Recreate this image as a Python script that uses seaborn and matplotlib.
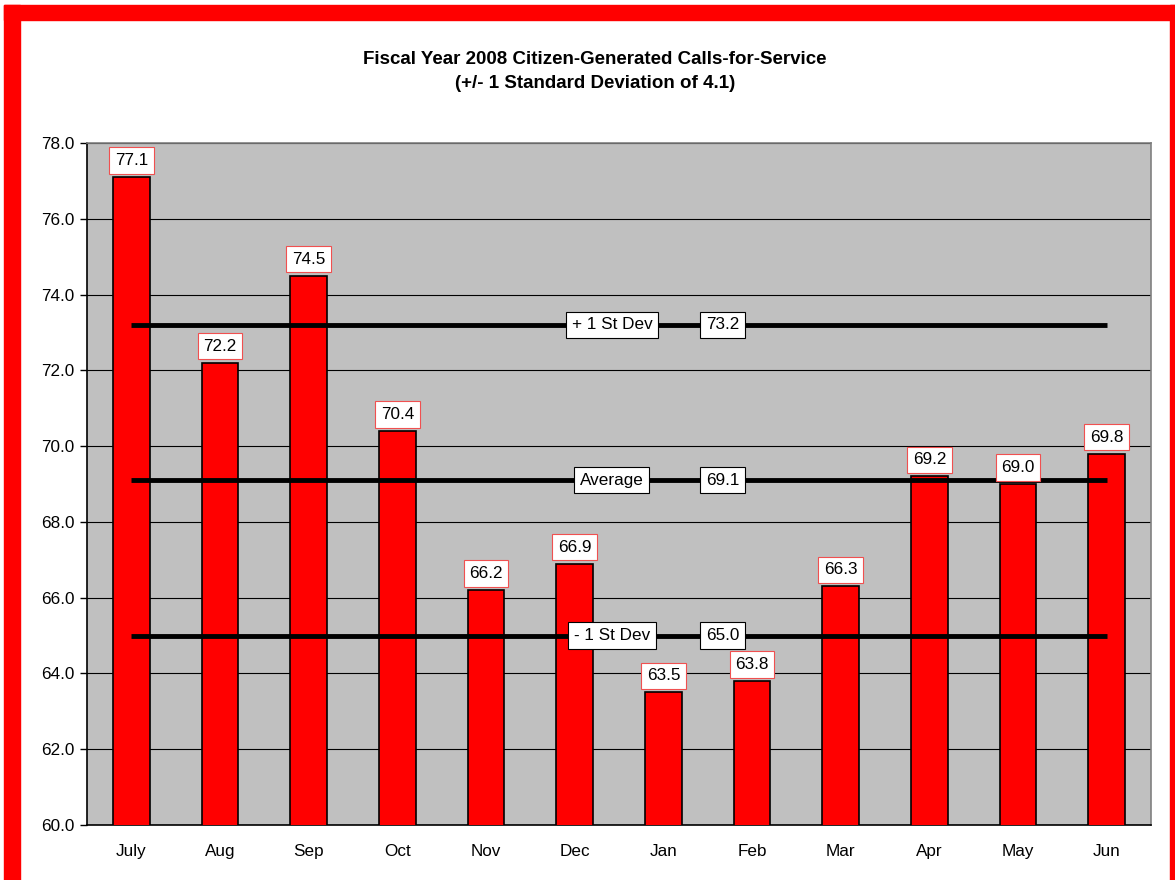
import matplotlib
matplotlib.use("Agg")
import matplotlib.pyplot as plt
from matplotlib.patches import Rectangle
import seaborn as sns
import pandas as pd

# Data
months = ["July", "Aug", "Sep", "Oct", "Nov", "Dec", "Jan", "Feb", "Mar", "Apr", "May", "Jun"]
calls = [77.1, 72.2, 74.5, 70.4, 66.2, 66.9, 63.5, 63.8, 66.3, 69.2, 69.0, 69.8]
average = 69.1
std_dev = 4.1
ref_names = ["+ 1 St Dev", "Average", "- 1 St Dev"]
ref_values = [73.2, 69.1, 65.0]

sns.set_theme(style="white")
plt.rcParams["font.family"] = ["Liberation Sans", "DejaVu Sans"]
plt.rcParams.update({"text.color": "black", "xtick.color": "black",
                     "ytick.color": "black", "axes.labelcolor": "black"})

df = pd.DataFrame({"month": months, "calls": calls})

fig = plt.figure(figsize=(11.75, 8.8), dpi=100)
fig.patch.set_facecolor("white")
ax = fig.add_axes([87 / 1175, 1 - 825 / 880, (1151 - 87) / 1175, (825 - 143) / 880])
ax.set_facecolor("#C0C0C0")

sns.barplot(data=df, x="month", y="calls", color="#FF0000", edgecolor="black",
            linewidth=1.2, width=0.41, saturation=1, ax=ax, zorder=3)

fs = 12.3

# reference lines (+1 SD, average, -1 SD)
xs = list(range(len(months)))
for name, val in zip(ref_names, ref_values):
    ax.plot(xs, [val] * len(xs), color="black", lw=3.5, zorder=4, solid_capstyle="butt")
    ax.text(5.42, val, name, ha="center", va="center", fontsize=fs, zorder=6,
            bbox=dict(boxstyle="square,pad=0.33", fc="white", ec="black", lw=0.8))
    ax.text(6.67, val, f"{val:.1f}", ha="center", va="center", fontsize=fs, zorder=6,
            bbox=dict(boxstyle="square,pad=0.33", fc="white", ec="black", lw=0.8))

# value labels over bars
for i, v in enumerate(calls):
    ax.annotate(f"{v:.1f}", (i, v), xytext=(0, 6.5), textcoords="offset points",
                ha="center", va="bottom", fontsize=fs, zorder=6,
                bbox=dict(boxstyle="square,pad=0.33", fc="white", ec="#F05050", lw=0.8))

ax.set_ylim(60, 78)
ax.set_xlim(-0.5, len(months) - 0.5)
ax.set_yticks([60 + 2 * k for k in range(10)])
ax.set_yticklabels([f"{60 + 2 * k:.1f}" for k in range(10)], fontsize=fs)
ax.set_xticks(xs)
ax.set_xticklabels(months, fontsize=fs)
ax.set_xticks([x - 0.5 for x in xs] + [len(months) - 0.5], minor=True)
ax.tick_params(axis="x", which="major", length=0, pad=14)
ax.tick_params(axis="x", which="minor", length=5, width=1, color="black", direction="out")
ax.tick_params(axis="y", length=5, width=1, color="black", direction="out", left=True, pad=4)
ax.yaxis.grid(True, color="black", lw=0.8, zorder=0)
ax.set_axisbelow(True)
ax.set_xlabel("")
ax.set_ylabel("")
for side in ["left", "bottom"]:
    ax.spines[side].set_color("black")
    ax.spines[side].set_linewidth(1.2)
for side in ["top", "right"]:
    ax.spines[side].set_color("#808080")
    ax.spines[side].set_linewidth(1.2)

fig.text(595 / 1175, 1 - 60 / 880, "Fiscal Year 2008 Citizen-Generated Calls-for-Service",
         ha="center", va="center", fontsize=13.5, fontweight="bold")
fig.text(595 / 1175, 1 - 84 / 880, "(+/- 1 Standard Deviation of 4.1)",
         ha="center", va="center", fontsize=13.5, fontweight="bold")

# red frame around the chart
W, H = 1175, 880
for (x0, y0, w, h) in [(4, 5, 16, 875), (4, 5, 1171, 15), (1170, 5, 5, 875)]:
    fig.patches.append(Rectangle((x0 / W, 1 - (y0 + h) / H), w / W, h / H,
                                 transform=fig.transFigure, color="#FF0000", zorder=10))

fig.savefig("out.png", dpi=100)
